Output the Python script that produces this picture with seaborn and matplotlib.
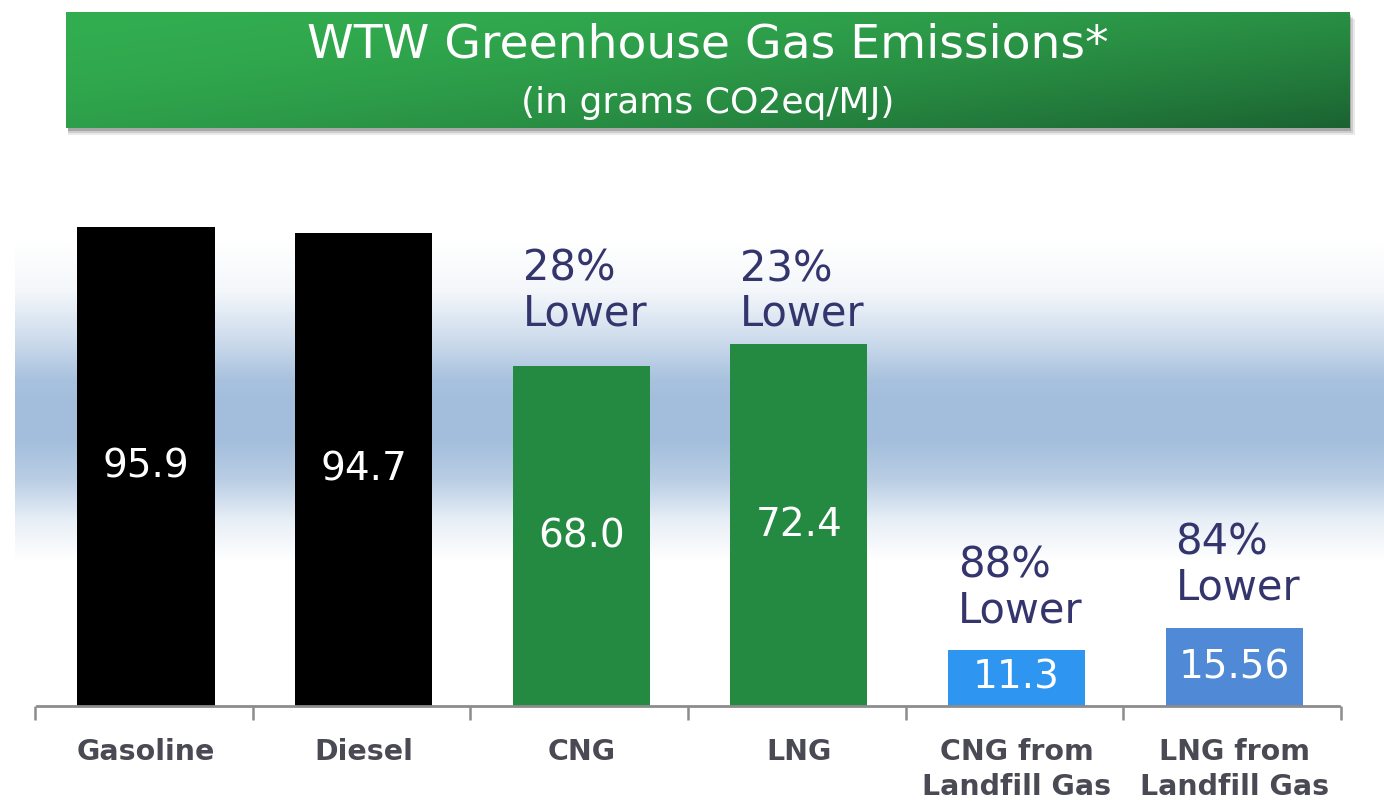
import numpy as np
import pandas as pd
import matplotlib
matplotlib.use('Agg')
import matplotlib.pyplot as plt
import matplotlib.patches as mpatches
import seaborn as sns

sns.set_style("white")
plt.rcParams['font.family'] = ['DejaVu Sans']

# data
categories = ['Gasoline', 'Diesel', 'CNG', 'LNG', 'CNG from\nLandfill Gas', 'LNG from\nLandfill Gas']
values = [95.9, 94.7, 68.0, 72.4, 11.3, 15.56]
value_labels = ['95.9', '94.7', '68.0', '72.4', '11.3', '15.56']
pct_labels = [None, None, '28%\nLower', '23%\nLower', '88%\nLower', '84%\nLower']
bar_colors = ['#000000', '#000000', '#248a41', '#248a41', '#2e96f0', '#5089d6']

df = pd.DataFrame({'fuel': categories, 'emissions': values})

W, H = 1384, 807
fig = plt.figure(figsize=(W / 100, H / 100), dpi=100)

# background: soft blue horizontal band
bg = fig.add_axes([0, 0, 1, 1], zorder=0)
ys = np.arange(H)
stops_y = [0, 240, 290, 340, 380, 400, 440, 480, 520, 560, H]
stops_a = [0, 0, 0.12, 0.55, 0.95, 1.0, 1.0, 0.75, 0.25, 0, 0]
a = np.interp(ys, stops_y, stops_a)
band = np.array([0xa3, 0xbe, 0xdc]) / 255.0
img = np.ones((H, W, 3))
img[:, 15:, :] = (1 - a[:, None, None]) * 1.0 + a[:, None, None] * band[None, None, :]
bg.imshow(img, extent=[0, W, H, 0], aspect='auto')
bg.set_xlim(0, W)
bg.set_ylim(H, 0)
bg.axis('off')

# title banner with a soft shadow
x0, x1, y0, y1 = 66, 1350, 12, 128
for k, al in enumerate([0.12, 0.18, 0.3]):
    off = 7 - 2 * k
    shadow = mpatches.Rectangle(((x0 + 2) / W, 1 - (y1 + off) / H), (x1 - x0 + off - 4) / W, (y1 - y0) / H,
                                transform=fig.transFigure, color='#505050', alpha=al, lw=0, zorder=1)
    fig.patches.append(shadow)
ban = fig.add_axes([x0 / W, 1 - y1 / H, (x1 - x0) / W, (y1 - y0) / H], zorder=2)
gx = np.linspace(0, 1, 400)[None, :]
gy = np.linspace(0, 1, 100)[:, None]
t = np.clip(0.6 * gx + 0.4 * gy, 0, 1) ** 1.8
light = np.array([0x32, 0xad, 0x50]) / 255.0
dark = np.array([0x1b, 0x62, 0x31]) / 255.0
bimg = (1 - t[..., None]) * light + t[..., None] * dark
ban.imshow(bimg, extent=[0, 1, 1, 0], aspect='auto')
ban.axis('off')

fig.text((x0 + x1) / 2 / W, 1 - 45 / H, 'WTW Greenhouse Gas Emissions*', color='white',
         fontsize=34, ha='center', va='center', zorder=3)
fig.text((x0 + x1) / 2 / W, 1 - 103 / H, '(in grams CO2eq/MJ)', color='white',
         fontsize=26, ha='center', va='center', zorder=3)

# bars
ax = fig.add_axes([35 / W, 101 / H, 1308 / W, 500 / H], zorder=1)
ax.patch.set_alpha(0)
sns.barplot(data=df, x='fuel', y='emissions', hue='fuel', palette=bar_colors,
            width=0.63, saturation=1, legend=False, linewidth=0, edgecolor='none', ax=ax)
ax.set_xlim(-0.5, len(categories) - 0.5)
ax.set_ylim(0, 100)

for side in ['top', 'right', 'left']:
    ax.spines[side].set_visible(False)
ax.spines['bottom'].set_color('#8c8c8c')
ax.spines['bottom'].set_linewidth(2)
ax.spines['bottom'].set_bounds(-0.5, len(categories) - 0.52)
ax.set_yticks([])
ax.set_xlabel('')
ax.set_ylabel('')
ax.set_xticks(range(len(categories)))
ax.set_xticklabels(categories, fontsize=20.5, fontweight='bold', color='#4a4a55', linespacing=1.3)
ax.tick_params(axis='x', which='major', length=0, pad=23)
ax.set_xticks(np.arange(-0.5, len(categories)) - 0.01, minor=True)
ax.tick_params(axis='x', which='minor', bottom=True, length=10, width=1.8, color='#8c8c8c', direction='out')

# value labels inside bars
for i, (v, lab) in enumerate(zip(values, value_labels)):
    ax.text(i, v / 2, lab, color='white', fontsize=28, ha='center', va='center')

# "% Lower" annotations above bars
gaps = [0, 0, 32, 9, 18, 20]
for i, (v, lab) in enumerate(zip(values, pct_labels)):
    if lab is None:
        continue
    ax.annotate(lab, xy=(i - 0.27, v), xytext=(0, gaps[i]), textcoords='offset pixels',
                ha='left', va='bottom', fontsize=30, color='#35356e', linespacing=1.08)

plt.savefig('out.png', dpi=100)
